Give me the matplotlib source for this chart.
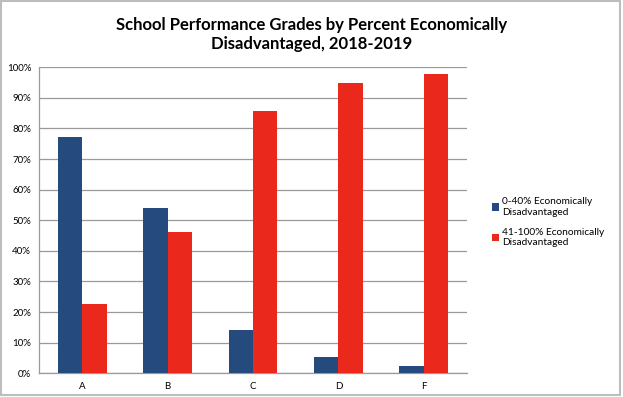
import matplotlib
matplotlib.use("Agg")
import matplotlib.pyplot as plt
import numpy as np
from matplotlib.patches import Rectangle

grades = ["A", "B", "C", "D", "F"]
low_ed = [77.2, 53.9, 14.3, 5.2, 2.3]      # 0-40% economically disadvantaged
high_ed = [22.8, 46.1, 85.7, 94.8, 97.7]   # 41-100% economically disadvantaged
series_names = ["0-40% Economically\nDisadvantaged", "41-100% Economically\nDisadvantaged"]
yticks = [0, 10, 20, 30, 40, 50, 60, 70, 80, 90, 100]

BLUE = "#254a7e"
RED = "#eb281c"
GRID = "#9a9a9a"

plt.rcParams["font.family"] = ["Lato", "DejaVu Sans"]

fig = plt.figure(figsize=(6.23, 3.97), dpi=100)
ax = fig.add_axes([0.0634, 0.0597, 0.6856, 0.7708])

x = np.arange(len(grades))
w = 0.286
ax.bar(x - w / 2, low_ed, w, color=BLUE, label=series_names[0], zorder=3)
ax.bar(x + w / 2, high_ed, w, color=RED, label=series_names[1], zorder=3)

ax.set_xlim(-0.5, len(grades) - 0.5)
ax.set_ylim(0, 100)
ax.set_yticks(yticks)
ax.set_yticklabels([f"{t}%" for t in yticks], fontsize=7)
ax.set_xticks(x)
ax.set_xticklabels(grades, fontsize=7)
ax.tick_params(axis="both", length=0, pad=6)
ax.yaxis.grid(True, color=GRID, linewidth=0.9, zorder=0)
for side in ["top", "right"]:
    ax.spines[side].set_visible(False)
for side in ["left", "bottom"]:
    ax.spines[side].set_color(GRID)
    ax.spines[side].set_linewidth(0.9)

fig.text(0.5, 0.913, "School Performance Grades by Percent Economically\nDisadvantaged, 2018-2019",
         ha="center", va="center", fontsize=12, fontweight="bold", linespacing=1.3)

fig.legend(loc="center left", bbox_to_anchor=(0.775, 0.44), frameon=False, fontsize=7.3,
           handlelength=0.7, handleheight=0.7, handletextpad=0.3, labelspacing=1.1)

fig.patches.append(Rectangle((0.002, 0.004), 0.993, 0.993, transform=fig.transFigure,
                             fill=False, edgecolor="#bdbdbd", linewidth=1.5))

fig.savefig("out.png", dpi=100)
